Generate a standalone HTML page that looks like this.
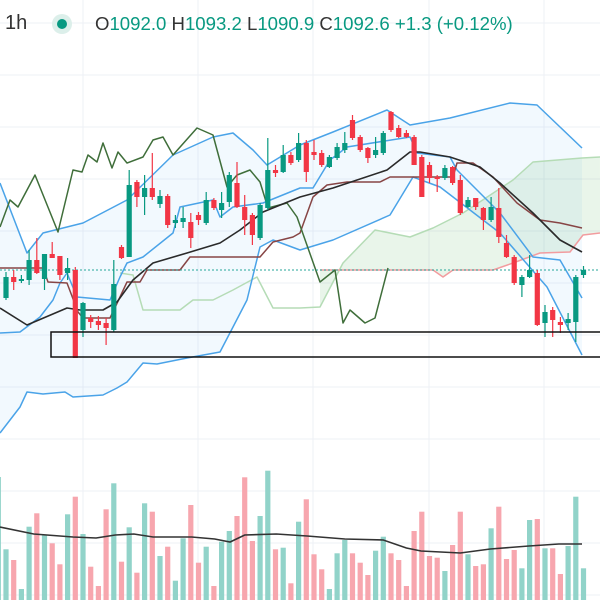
<!DOCTYPE html>
<html><head><meta charset="utf-8"><style>
html,body{margin:0;padding:0;background:#fff;width:600px;height:600px;overflow:hidden}
#hdr{position:absolute;left:0;top:0;width:600px;height:48px;font-family:"Liberation Sans",sans-serif;font-size:18.6px;color:#333}
.t{position:absolute;top:13px;white-space:nowrap}
.v{color:#089981}
</style></head><body>
<svg id="chart" width="600" height="600" style="position:absolute;left:0;top:0"></svg>
<div id="hdr">
<span class="t" style="left:5px;font-size:20px;top:12px">1h</span>
<span style="position:absolute;left:52px;top:14px;width:20px;height:20px;border-radius:50%;background:#dcefea"></span>
<span style="position:absolute;left:57px;top:19px;width:10px;height:10px;border-radius:50%;background:#089981"></span>
<span class="t" style="left:95px">O<span class="v">1092.0</span>&nbsp;H<span class="v">1093.2</span>&nbsp;L<span class="v">1090.9</span>&nbsp;C<span class="v">1092.6</span>&nbsp;<span class="v">+1.3 (+0.12%)</span></span>
</div>
<script>
const opens=[1091.48,1092.32,1092.16,1092.20,1093.00,1092.24,1093.24,1093.16,1092.48,1092.60,1090.20,1090.68,1090.56,1090.48,1090.20,1093.52,1093.12,1096.12,1095.52,1095.88,1095.24,1095.56,1094.48,1094.52,1094.52,1094.80,1094.48,1095.40,1095.00,1095.32,1096.08,1095.12,1094.80,1093.88,1095.08,1096.60,1096.52,1097.20,1097.00,1097.68,1097.32,1097.28,1096.72,1097.08,1097.40,1098.60,1097.92,1097.48,1097.20,1097.28,1098.92,1098.28,1098.08,1097.92,1097.12,1096.80,1096.32,1096.28,1096.72,1096.20,1095.12,1095.48,1095.08,1094.60,1095.08,1093.68,1093.12,1092.00,1092.32,1092.48,1090.48,1091.00,1090.52,1090.48,1090.52,1092.40];
const closes=[1092.32,1092.12,1092.24,1093.00,1092.48,1093.24,1093.08,1092.40,1092.68,1089.08,1091.28,1090.52,1090.40,1090.28,1092.04,1093.08,1096.00,1095.52,1095.88,1095.52,1095.56,1094.40,1094.60,1094.68,1093.88,1094.60,1095.40,1095.08,1095.28,1096.40,1095.12,1094.60,1094.00,1095.20,1096.60,1096.48,1097.20,1096.88,1097.68,1096.52,1097.20,1096.80,1097.12,1097.52,1097.68,1097.88,1097.40,1097.08,1097.40,1098.08,1098.20,1097.92,1097.92,1096.80,1095.52,1096.28,1096.24,1096.68,1096.08,1094.88,1095.40,1095.12,1094.60,1095.12,1093.92,1093.12,1092.08,1092.32,1092.60,1090.40,1090.92,1090.60,1090.40,1090.64,1092.32,1092.60];
const highs=[1092.52,1092.60,1092.40,1093.40,1093.88,1093.24,1093.72,1093.16,1093.08,1092.72,1091.32,1090.80,1090.76,1090.68,1093.00,1093.60,1096.60,1096.20,1096.40,1097.28,1095.80,1095.64,1094.80,1095.12,1094.88,1094.92,1095.72,1095.48,1095.72,1096.52,1096.92,1095.60,1094.88,1095.28,1097.88,1096.80,1097.60,1097.32,1098.08,1097.80,1097.80,1097.40,1097.20,1097.68,1098.12,1098.80,1098.00,1097.52,1097.92,1098.16,1098.96,1098.40,1098.20,1098.00,1097.20,1096.92,1096.40,1096.80,1096.76,1096.40,1095.52,1095.48,1095.12,1095.52,1095.88,1094.00,1093.20,1092.40,1093.20,1092.60,1091.20,1091.12,1090.72,1090.88,1092.40,1092.76];
const lows=[1091.40,1091.80,1092.08,1092.00,1092.44,1091.80,1093.08,1092.20,1092.20,1089.08,1089.92,1090.28,1090.20,1089.60,1090.12,1093.04,1093.12,1095.12,1094.80,1095.40,1095.08,1094.28,1094.28,1094.28,1093.48,1094.40,1094.40,1095.00,1094.68,1095.12,1095.08,1094.00,1093.60,1093.80,1095.00,1096.32,1096.48,1096.80,1096.92,1096.12,1097.00,1096.72,1096.68,1097.00,1097.28,1097.80,1097.32,1096.88,1097.08,1097.20,1098.12,1097.88,1097.88,1096.80,1095.52,1096.08,1095.72,1096.20,1096.00,1094.80,1095.08,1095.00,1094.20,1094.52,1093.68,1093.08,1092.00,1091.52,1092.28,1090.36,1089.92,1089.92,1090.08,1090.20,1089.72,1092.28];
const volumes=[50.7,40,11,73.3,86.7,65,56.7,35.7,85.7,103.3,66,33.3,14,90.7,116.7,38.3,72.7,27.3,96.7,88.3,44,53.3,19.3,61.7,95,37.3,53.3,14,58.3,69,84,122.7,59,84,129.3,50.7,52.3,16.7,78.3,100.7,45.7,30.7,11,46.7,60,46.7,37.3,25,49.3,63.3,46.7,40,14,69,88.3,44,42.3,29,55,88.3,45.7,34,35.7,71.7,93.3,41,50,31.7,80,81,51.7,51.7,26,54,103.3,31.7];
const edgeVolume=123;
const volMaIdx=[-0.78,3.6,8.7,11.7,14.2,16.6,19.1,24.1,27.1,29.1,31.0,35.1,39.1,44.0,49.0,52.0,53.9,59.0,62.9,67.9,71.8,74.8];
const volMaVals=[73,66,63,62,65,66,63,63,61,58,65,66,64,61,60,52,49,47,51,54,56,56];
const upperIdx=[-0.78,2.73,4.81,10.0,15.71,21.69,26.88,29.48,32.08,33.9,38.18,42.47,49.48,52.47,57.66,65.45,68.96,71.95,74.81];
const upperVals=[1096.08,1093.28,1094.08,1094.48,1095.40,1097.20,1097.92,1098.08,1097.40,1096.80,1097.60,1098.12,1099.00,1098.40,1098.68,1099.28,1099.20,1098.32,1097.48];
const midIdx=[-0.78,1.82,4.42,6.10,7.01,7.92,9.22,13.51,14.81,15.71,17.79,21.69,22.60,26.88,27.79,29.48,33.38,38.18,39.87,42.08,44.29,52.47,53.38,57.66,58.57,64.16,68.44,71.95,74.81];
const midVals=[1090.08,1090.12,1090.72,1091.40,1092.08,1092.48,1091.52,1091.40,1092.32,1092.88,1093.12,1094.08,1095.12,1095.40,1094.72,1095.12,1095.28,1095.88,1095.88,1097.00,1097.52,1097.92,1097.28,1097.12,1096.60,1094.88,1093.12,1093.00,1091.48];
const lowerIdx=[-0.78,1.82,2.73,4.81,7.66,8.70,12.60,14.42,15.71,17.79,19.61,23.51,27.79,29.48,31.30,32.99,34.68,38.18,42.47,49.87,52.86,56.36,64.16,70.26,74.81];
const lowerVals=[1086.08,1087.12,1087.72,1087.64,1087.72,1087.52,1087.60,1087.88,1088.12,1088.88,1088.84,1089.08,1089.32,1090.32,1091.40,1093.52,1093.80,1093.40,1093.80,1094.80,1096.32,1095.92,1094.08,1091.92,1089.20];
const maIdx=[-0.78,2.73,7.92,9.61,12.60,14.42,16.49,19.09,23.51,27.79,30.39,33.38,38.18,42.47,49.48,52.47,53.77,57.66,61.56,64.16,68.44,71.95,74.81];
const maVals=[1091.08,1090.40,1091.08,1091.00,1091.00,1091.32,1092.20,1092.88,1093.28,1093.68,1094.20,1094.92,1095.52,1095.88,1096.60,1097.32,1097.32,1097.12,1096.72,1096.08,1094.88,1093.80,1093.32];
const kijunIdx=[-0.78,4.81,5.45,7.92,9.35,10.0,13.51,14.81,15.71,17.40,18.31,22.60,23.90,32.99,34.68,37.27,38.18,39.87,41.69,44.29,48.57,49.87,58.05,58.57,60.65,63.25,66.36,69.35,71.95,74.81];
const kijunVals=[1092.68,1092.68,1092.12,1092.08,1090.92,1090.68,1090.68,1091.52,1092.12,1092.12,1092.60,1092.60,1093.12,1093.12,1093.72,1093.92,1094.08,1095.52,1096.00,1096.12,1096.12,1096.32,1096.32,1096.88,1096.88,1096.32,1095.28,1094.60,1094.48,1094.28];
const chikouIdx=[-0.78,0.52,1.56,3.77,6.75,8.70,9.87,10.65,11.82,12.60,13.77,14.55,15.71,17.79,19.09,20.39,21.69,24.81,26.88,28.70,30.00,31.69,32.99,34.03,36.49,37.79,40.78,42.73,43.77,44.68,46.62,47.92,49.61];
const chikouVals=[1094.32,1095.40,1095.12,1096.40,1094.12,1096.60,1096.52,1097.20,1096.92,1097.68,1096.68,1097.32,1096.88,1097.12,1097.80,1097.92,1097.20,1098.28,1098.00,1095.92,1096.40,1096.60,1096.12,1095.08,1095.28,1094.72,1092.12,1092.60,1090.48,1091.00,1090.48,1090.68,1092.68];
const spanAIdx=[14.81,16.49,17.79,22.60,24.29,26.88,29.48,32.60,34.68,38.18,40.78,43.77,47.92,52.47,55.45,59.35,65.84,68.44,74.81,77.14];
const spanAVals=[1092.48,1092.40,1091.00,1091.00,1091.40,1091.40,1091.80,1092.32,1091.08,1091.08,1091.12,1092.88,1094.20,1093.92,1094.28,1094.88,1096.20,1096.92,1097.08,1097.12];
const spanBIdx=[40.78,55.45,56.75,58.05,63.25,65.84,69.35,73.25,74.94,77.14];
const spanBVals=[1092.60,1092.60,1092.32,1092.60,1092.60,1092.88,1093.28,1093.32,1094.00,1094.08];
const zoneLow=[1090.12,1089.12];
const lastClose=1092.6;

const NS='http://www.w3.org/2000/svg';
const svg=document.getElementById('chart');
const xs=i=>6+7.7*i;
const ys=p=>270-(p-1092.6)*25;
const vs=v=>600-v;
function mk(tag,attrs,parent){const e=document.createElementNS(NS,tag);for(const k in attrs)e.setAttribute(k,attrs[k]);(parent||svg).appendChild(e);return e;}
function pts(ix,vals,f){return ix.map((i,k)=>xs(i).toFixed(1)+','+f(vals[k]).toFixed(1));}

const grid=mk('g',{});


[83,198,313,429,544].forEach(x=>mk('line',{x1:x,x2:x,y1:0,y2:600,stroke:'#eef1f6','stroke-width':1},grid));
for(let y=23;y<600;y+=52)mk('line',{x1:0,x2:600,y1:y,y2:y,stroke:'#eef1f6','stroke-width':1},grid);

const vg=mk('g',{});


const eb=mk('rect',{x:xs(-1)-2.6,y:vs(edgeVolume),width:5.2,height:edgeVolume,fill:'#91d3c9'},vg);


volumes.forEach((v,i)=>{
  const up=closes[i]>=opens[i];
  const r=mk('rect',{x:xs(i)-2.6,y:vs(v),width:5.2,height:v,fill:up?'#91d3c9':'#f7a6ae'},vg);
  
  
});
const vma=mk('polyline',{points:pts(volMaIdx,volMaVals,vs).join(' '),fill:'none',stroke:'#333','stroke-width':1.6});



const bf=mk('polygon',{points:pts(upperIdx,upperVals,ys).concat(pts(lowerIdx,lowerVals,ys).reverse()).join(' '),fill:'rgba(33,150,243,0.06)'});



const aIn=spanAIdx.map((i,k)=>[i,spanAVals[k]]).filter(d=>d[0]>=spanBIdx[0]);
const cloud=mk('polygon',{points:aIn.map(d=>xs(d[0])+','+ys(d[1])).concat(pts(spanBIdx,spanBVals,ys).reverse()).join(' '),fill:'rgba(76,175,80,0.12)'});



function line(ix,vals,color,w,name){
  const l=mk('polyline',{points:pts(ix,vals,ys).join(' '),fill:'none',stroke:color,'stroke-width':w,'stroke-linejoin':'round'});
  
  
}
line(spanAIdx,spanAVals,'#b5dcb6',1.5,'span-a-line');
line(spanBIdx,spanBVals,'#f29c9f',1.5,'span-b-line');
line(upperIdx,upperVals,'#4aa3e8',1.5,'bollinger-upper');
line(lowerIdx,lowerVals,'#4aa3e8',1.5,'bollinger-lower');
line(midIdx,midVals,'#4aa3e8',1.5,'bollinger-middle');
line(kijunIdx,kijunVals,'#874545',1.5,'kijun-line');
line(chikouIdx,chikouVals,'#3f6e3a',1.5,'chikou-line');
line(maIdx,maVals,'#2a2a2a',1.6,'moving-average');

const lp=mk('line',{x1:0,x2:600,y1:ys(lastClose),y2:ys(lastClose),stroke:'#26a69a','stroke-width':1,'stroke-dasharray':'2,2'});



const cg=mk('g',{});


opens.forEach((o,i)=>{
  const c=closes[i],up=c>=o,col=up?'#089981':'#f23645',x=xs(i);
  const g=mk('g',{},cg);
  
  
  mk('line',{x1:x,x2:x,y1:ys(highs[i]),y2:ys(lows[i]),stroke:col,'stroke-width':1.2},g);
  const t=ys(Math.max(o,c)),b=ys(Math.min(o,c));
  mk('rect',{x:x-2.6,y:t,width:5.2,height:Math.max(1,b-t),fill:col},g);
});

const zr=mk('rect',{x:51,y:ys(zoneLow[0]),width:560,height:ys(zoneLow[1])-ys(zoneLow[0]),fill:'none',stroke:'#111','stroke-width':1.5});


</script>
</body></html>
